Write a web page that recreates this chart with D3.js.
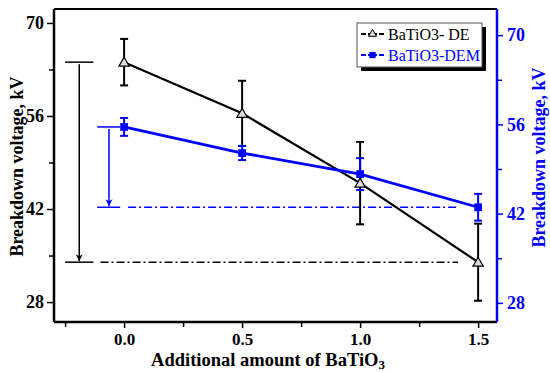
<!DOCTYPE html>
<html>
<head>
<meta charset="utf-8">
<script src="https://cdn.jsdelivr.net/npm/d3@7"></script>
<style>
  body { margin: 0; background: #fff; }
  text { font-family: "Liberation Serif", "Times New Roman", serif; }
</style>
</head>
<body>
<div id="chart"></div>
<script>
// amount of BaTiO3 added
var amounts = [0.0, 0.5, 1.0, 1.5];

// breakdown voltage, kV (left axis)
var deValues = [64.1, 56.4, 45.9, 34.0];
var deErrors = [3.5, 4.9, 6.2, 5.8];

// breakdown voltage, kV (right axis)
var demValues = [55.6, 51.5, 48.2, 43.0];
var demErrors = [1.4, 1.1, 2.5, 2.1];

var xTicks = [0.0, 0.5, 1.0, 1.5];
var xMinor = [-0.25, 0.25, 0.75, 1.25];
var yTicks = [28, 42, 56, 70];
var yMinor = [35, 49, 63];

var seriesNames = ["BaTiO3- DE", "BaTiO3-DEM"];

var margin = {top: 9, right: 53, bottom: 50, left: 54};
var width = 550 - margin.left - margin.right,
    height = 372 - margin.top - margin.bottom;

var svg = d3.select("#chart").append("svg")
    .attr("width", 550)
    .attr("height", 372)
    .append("g")
    .attr("transform", "translate(" + margin.left + "," + margin.top + ")");

var x = d3.scaleLinear().domain([-0.297, 1.58]).range([0, width]);
var yL = d3.scaleLinear().domain([25, 72.1]).range([height, 0]);
var yR = d3.scaleLinear().domain([25, 74.1]).range([height, 0]);

var blue = "#0000ff";

// top border
svg.append("line")
    .attr("x1", 0).attr("x2", width)
    .attr("y1", 0).attr("y2", 0)
    .attr("stroke", "black").attr("stroke-width", 2);

// x axis
var gx = svg.append("g")
    .attr("transform", "translate(0," + height + ")")
    .call(d3.axisBottom(x).tickValues(xTicks).tickFormat(d3.format(".1f")).tickSize(6).tickPadding(5));
svg.append("g")
    .attr("transform", "translate(0," + height + ")")
    .call(d3.axisBottom(x).tickValues(xMinor).tickFormat("").tickSize(5))
    .select(".domain").remove();

// left axis
var gl = svg.append("g")
    .call(d3.axisLeft(yL).tickValues(yTicks).tickSize(7).tickPadding(3));
svg.append("g")
    .call(d3.axisLeft(yL).tickValues(yMinor).tickFormat("").tickSize(5))
    .select(".domain").remove();

// right axis
var gr = svg.append("g")
    .attr("class", "right")
    .attr("transform", "translate(" + width + ",0)")
    .call(d3.axisRight(yR).tickValues(yTicks).tickSize(6).tickPadding(4));
var grm = svg.append("g")
    .attr("class", "right")
    .attr("transform", "translate(" + width + ",0)")
    .call(d3.axisRight(yR).tickValues(yMinor).tickFormat("").tickSize(5));
grm.select(".domain").remove();

svg.selectAll(".domain").attr("stroke-width", 2.5);
gx.select(".domain").attr("d", "M0,0H" + width);
gl.select(".domain").attr("d", "M0,0V" + height);
gr.select(".domain").attr("d", "M0,0V" + height);

svg.selectAll(".tick line").attr("stroke-width", 1.5);
svg.selectAll(".tick text")
    .style("font-family", "'Liberation Serif', serif")
    .style("font-size", "18px")
    .style("font-weight", "bold");
gx.selectAll(".tick text").style("font-size", "17px");

svg.selectAll("g.right .domain, g.right .tick line").attr("stroke", blue);
svg.selectAll("g.right .tick text").attr("fill", blue);

// axis titles
svg.append("text")
    .attr("transform", "translate(" + (17 - margin.left) + "," + (height / 2 + 1) + ")rotate(-90)")
    .attr("text-anchor", "middle")
    .attr("dy", "0.35em")
    .style("font-size", "18px")
    .style("font-weight", "bold")
    .text("Breakdown voltage, kV");

svg.append("text")
    .attr("transform", "translate(" + (width + 42) + "," + (height / 2 - 8) + ")rotate(-90)")
    .attr("text-anchor", "middle")
    .attr("dy", "0.35em")
    .attr("fill", blue)
    .style("font-size", "18px")
    .style("font-weight", "bold")
    .text("Breakdown voltage, kV");

var xt = svg.append("text")
    .attr("x", 268 - margin.left)
    .attr("y", 366 - margin.top)
    .attr("text-anchor", "middle")
    .style("font-size", "18.5px")
    .style("font-weight", "bold");
xt.append("tspan").text("Additional amount of BaTiO");
xt.append("tspan").attr("dy", 3).style("font-size", "13px").text("3");

// annotation lines: drop from first to last value
var deDrop = {x1: -0.25, x2: -0.13, arrowX: -0.19, from: deValues[0], to: deValues[3], dashFrom: -0.10, dashTo: 1.415};
var demDrop = {x1: -0.114, x2: -0.017, arrowX: -0.064, from: demValues[0], to: demValues[3], dashFrom: 0.017, dashTo: 1.415};

var defs = svg.append("defs");
[["arrBlack", "black"], ["arrBlue", blue]].forEach(function(a) {
    defs.append("marker")
        .attr("id", a[0])
        .attr("viewBox", "0 0 10 10")
        .attr("refX", 10).attr("refY", 5)
        .attr("markerWidth", 7).attr("markerHeight", 9)
        .attr("markerUnits", "userSpaceOnUse")
        .attr("orient", "auto")
        .append("path")
        .attr("d", "M0,0L10,5L0,10L3,5Z")
        .attr("fill", a[1]);
});

function drawDrop(dp, yScale, color, marker) {
    svg.append("line")
        .attr("x1", x(dp.x1)).attr("x2", x(dp.x2))
        .attr("y1", yScale(dp.from)).attr("y2", yScale(dp.from))
        .attr("stroke", color).attr("stroke-width", 1.5);
    svg.append("line")
        .attr("x1", x(dp.x1)).attr("x2", x(dp.x2))
        .attr("y1", yScale(dp.to)).attr("y2", yScale(dp.to))
        .attr("stroke", color).attr("stroke-width", 1.5);
    svg.append("line")
        .attr("x1", x(dp.arrowX)).attr("x2", x(dp.arrowX))
        .attr("y1", yScale(dp.from) + 2).attr("y2", yScale(dp.to) - 1)
        .attr("stroke", color).attr("stroke-width", 1.5)
        .attr("marker-end", "url(#" + marker + ")");
    svg.append("line")
        .attr("x1", x(dp.dashFrom)).attr("x2", x(dp.dashTo))
        .attr("y1", yScale(dp.to)).attr("y2", yScale(dp.to))
        .attr("stroke", color).attr("stroke-width", 1.4)
        .attr("stroke-dasharray", "8,3,2,3");
}
drawDrop(deDrop, yL, "black", "arrBlack");
drawDrop(demDrop, yR, blue, "arrBlue");

// series
function drawSeries(vals, errs, yScale, color, lw) {
    var pts = amounts.map(function(a, i) { return {x: a, y: vals[i], e: errs[i]}; });
    svg.append("path")
        .datum(pts)
        .attr("fill", "none")
        .attr("stroke", color)
        .attr("stroke-width", lw)
        .attr("d", d3.line().x(function(d) { return x(d.x); }).y(function(d) { return yScale(d.y); }));
    var eb = svg.append("g").selectAll("g").data(pts).enter().append("g")
        .attr("stroke", color).attr("stroke-width", 2);
    eb.append("line")
        .attr("x1", function(d) { return x(d.x); }).attr("x2", function(d) { return x(d.x); })
        .attr("y1", function(d) { return yScale(d.y + d.e); })
        .attr("y2", function(d) { return yScale(d.y - d.e); });
    [1, -1].forEach(function(s) {
        eb.append("line")
            .attr("x1", function(d) { return x(d.x) - 4; }).attr("x2", function(d) { return x(d.x) + 4; })
            .attr("y1", function(d) { return yScale(d.y + s * d.e); })
            .attr("y2", function(d) { return yScale(d.y + s * d.e); });
    });
    return pts;
}

var dePts = drawSeries(deValues, deErrors, yL, "black", 2.2);
var demPts = drawSeries(demValues, demErrors, yR, blue, 2.8);

var tri = d3.symbol().type(d3.symbolTriangle).size(46);
var sq = d3.symbol().type(d3.symbolSquare).size(60);

svg.selectAll("path.de").data(dePts).enter().append("path")
    .attr("class", "de")
    .attr("d", tri)
    .attr("transform", function(d) { return "translate(" + x(d.x) + "," + (yL(d.y) + 1) + ")"; })
    .attr("fill", "#ddd").attr("stroke", "black").attr("stroke-width", 1.2);

svg.selectAll("path.dem").data(demPts).enter().append("path")
    .attr("class", "dem")
    .attr("d", sq)
    .attr("transform", function(d) { return "translate(" + x(d.x) + "," + yR(d.y) + ")"; })
    .attr("fill", blue);

// legend
var lg = svg.append("g").attr("transform", "translate(" + (357 - margin.left) + "," + (23 - margin.top) + ")");
lg.append("rect").attr("x", 4).attr("y", 4).attr("width", 125).attr("height", 44).attr("fill", "black");
lg.append("rect").attr("x", 0).attr("y", 0).attr("width", 125).attr("height", 44)
    .attr("fill", "white").attr("stroke", "#555").attr("stroke-width", 1);

var legendColors = ["black", blue];
seriesNames.forEach(function(name, i) {
    var ly = 11 + i * 21;
    lg.append("line").attr("x1", 4).attr("x2", 27).attr("y1", ly).attr("y2", ly)
        .attr("stroke", legendColors[i]).attr("stroke-width", 2)
        .attr("stroke-dasharray", "5,2,9,2,5");
    lg.append("path")
        .attr("d", i === 0 ? d3.symbol().type(d3.symbolTriangle).size(28) : d3.symbol().type(d3.symbolSquare).size(40))
        .attr("transform", "translate(15.5," + ly + ")")
        .attr("fill", i === 0 ? "#ddd" : blue)
        .attr("stroke", legendColors[i]).attr("stroke-width", i === 0 ? 1 : 0);
    lg.append("text")
        .attr("x", 31).attr("y", ly).attr("dy", "0.35em")
        .attr("fill", legendColors[i])
        .style("font-size", "16px")
        .text(name);
});
</script>
</body>
</html>
